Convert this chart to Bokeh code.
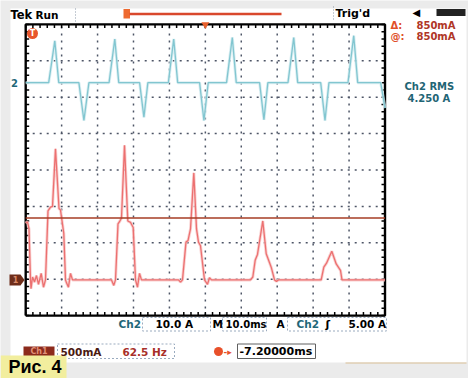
import numpy as np
from bokeh.plotting import figure
from bokeh.models import Range1d, Label
from bokeh.embed import file_html
from bokeh.resources import INLINE

# ---------------- data ----------------
ms_per_div = 10.0          # M 10.0ms
ch2_A_per_div = 10.0       # Ch2 10.0 A
ch1_mA_per_div = 500.0     # Ch1 500mA
ch2_offset_div = 2.40      # Ch2 ground marker level (divisions)
ch1_offset_div = -3.02     # Ch1 ground marker level (divisions)
cursor_mA = 850.0          # cursor level, Ch1
trigger_time_ms = 50.0     # trigger position (screen centre)

grid_time_ms = [0, 10, 20, 30, 40, 50, 60, 70, 80, 90, 100]
grid_div = [-4, -3, -2, -1, 0, 1, 2, 3, 4]

ch2_time_ms = [0.0, 6.4, 8.1, 9.2, 14.8, 16.2, 17.6,
               23.2, 24.8, 25.9, 31.7, 32.9, 34.0,
               39.7, 41.2, 42.3, 48.4, 49.6, 50.8,
               55.9, 57.5, 58.6, 65.1, 66.3, 67.4,
               73.0, 74.6, 75.7, 82.1, 83.3, 84.4,
               89.7, 91.3, 92.4, 98.8, 100.0]
ch2_amps = [0.0, 0.0, 11.5, 0.0, 0.0, -10.4, 0.0,
            0.0, 12.0, 0.0, 0.0, -9.5, 0.0,
            0.0, 12.0, 0.0, 0.0, -10.4, 0.0,
            0.0, 12.4, 0.0, 0.0, -10.2, 0.0,
            0.0, 12.4, 0.0, 0.0, -10.4, 0.0,
            0.0, 12.9, 0.0, 0.0, -7.0]

ch1_time_ms = [0.0, 0.5, 0.92, 1.34, 1.48, 1.9, 2.45, 3.0, 3.56, 4.31, 4.95, 5.51,
               6.21, 6.9, 7.46, 8.29, 9.27, 9.69, 10.6, 11.08, 11.36, 11.9, 12.47, 13.03,
               23.88, 24.52, 24.99, 25.69, 26.11, 26.66, 27.5, 28.42, 29.17, 29.92, 30.56,
               31.12, 31.67, 32.23,
               42.53, 43.08, 43.64, 44.61, 45.17, 45.87, 46.79, 47.54, 48.09, 48.65, 49.76,
               50.6, 51.15, 51.71,
               62.56, 63.21, 63.87, 64.51, 65.99, 66.94, 68.33, 69.25, 69.8, 70.36,
               82.24, 82.97, 83.72, 85.19, 86.42, 87.61, 88.03, 100.0]
ch1_mA = [780, 800, 700, 0, -120, 40, -30, 60, -60, 90, -100, 0,
          950, 1000, 1010, 1800, 980, 960, 640, 0, -40, -100, 90, 0,
          0, -75, 0, 770, 800, 850, 1850, 810, 790, 720, 0,
          -100, 90, 0,
          0, -30, 0, 520, 540, 700, 1470, 700, 520, 470, 0,
          -60, 30, 0,
          0, 40, 270, 350, 810, 360, 175, 0, -20, 0,
          0, 175, 230, 395, 220, 130, 0, 0]

# ---------------- layout helpers (pixel -> plot units) ----------------
X0, SX = 25.2, 3.593     # px of t=0, px per ms
Y0, SY = 169.5, 36.4     # px of 0 div, px per div


def tx(px):
    return (px - X0) / SX


def ty(py):
    return (Y0 - py) / SY


p = figure(width=468, height=378,
           x_range=Range1d(tx(0), tx(468)), y_range=Range1d(ty(378), ty(0)),
           x_axis_type=None, y_axis_type=None, toolbar_location=None,
           output_backend="svg", min_border=0, outline_line_color=None,
           background_fill_color="#ebebeb", border_fill_color="#ebebeb")

# screen paper
p.quad(left=tx(10), right=tx(466), top=ty(8), bottom=ty(362),
       fill_color="white", line_color=None)
p.segment(x0=tx(345), x1=tx(466), y0=ty(362.5), y1=ty(362.5),
          line_color="#d9bf96", line_width=1)

# graticule
t0, t1 = grid_time_ms[0], grid_time_ms[-1]
d0, d1 = grid_div[0], grid_div[-1]
inner_t = grid_time_ms[1:-1]
inner_d = grid_div[1:-1]
p.segment(x0=inner_t, x1=inner_t, y0=[d0] * len(inner_t), y1=[d1] * len(inner_t),
          line_color="#4d5566", line_width=1.5, line_dash="2 5")
p.segment(x0=[t0] * len(inner_d), x1=[t1] * len(inner_d), y0=inner_d, y1=inner_d,
          line_color="#4d5566", line_width=1.5, line_dash="2 5")

minor_t = np.arange(t0, t1 + 0.01, ms_per_div / 5)
minor_d = np.arange(d0, d1 + 0.01, 0.2)
tk_y = 3.5 / SY
tk_x = 3.5 / SX
p.segment(x0=minor_t, x1=minor_t, y0=d1, y1=d1 - tk_y, line_color="black", line_width=1.5)
p.segment(x0=minor_t, x1=minor_t, y0=d0, y1=d0 + tk_y, line_color="black", line_width=1.5)
p.segment(x0=t0, x1=t0 + tk_x, y0=minor_d, y1=minor_d, line_color="black", line_width=1.5)
p.segment(x0=t1, x1=t1 - tk_x, y0=minor_d, y1=minor_d, line_color="black", line_width=1.5)
p.line([t0, t1, t1, t0, t0], [d0, d0, d1, d1, d0], line_color="black", line_width=2.4)

# traces
ch2_y = ch2_offset_div + np.array(ch2_amps) / ch2_A_per_div
ch1_y = ch1_offset_div + np.array(ch1_mA) / ch1_mA_per_div
p.line(ch2_time_ms, ch2_y, line_color="#cfeaef", line_width=3.0, line_alpha=0.8)
p.line(ch2_time_ms, ch2_y, line_color="#82c6d0", line_width=1.3)
p.line(ch1_time_ms, ch1_y, line_color="#f8c6c6", line_width=3.0, line_alpha=0.8)
p.line(ch1_time_ms, ch1_y, line_color="#ec7070", line_width=1.3)

# cursor
cur_y = ch1_offset_div + cursor_mA / ch1_mA_per_div
p.line([t0, t1], [cur_y, cur_y], line_color="#a63c24", line_width=1.6)

# channel markers
p.patch(x=[tx(9), tx(20), tx(24), tx(20), tx(9)],
        y=[ch1_offset_div + 5.5 / SY, ch1_offset_div + 5.5 / SY, ch1_offset_div,
           ch1_offset_div - 5.5 / SY, ch1_offset_div - 5.5 / SY],
        fill_color="#6e2d1a", line_color=None)


def lab(px, py, text, size="10px", color="black", font="DejaVu Sans",
        style="bold", align="left", y=None):
    p.add_layout(Label(x=tx(px), y=ty(py) if y is None else y, text=text,
                       text_font=font, text_font_size=size, text_color=color,
                       text_font_style=style, text_align=align,
                       text_baseline="middle"))


lab(15, 0, "1", size="8px", color="#d88a68", align="center", y=ch1_offset_div)
lab(14, 0, "2", size="10px", color="#1f6878", align="center", y=ch2_offset_div)

# trigger level marker
p.scatter(x=[tx(32)], y=[ty(33)], size=11, fill_color="#e8562c", line_color=None)
lab(32, 33, "T", size="8px", color="white", align="center")

# top bar
lab(10, 14, "Tek", size="11.5px")
lab(35, 14.5, "Run", size="10.5px")
p.segment(x0=tx(75), x1=tx(75), y0=ty(8), y1=ty(22), line_color="#8a98a8",
          line_width=1, line_dash="1 2")
p.quad(left=tx(123), right=tx(129.5), top=ty(8.5), bottom=ty(18),
       fill_color="#ee6a30", line_color=None)
p.segment(x0=tx(129), x1=tx(281), y0=ty(13.5), y1=ty(13.5),
          line_color="#d9482c", line_width=2.5)
p.scatter(x=[trigger_time_ms], y=[ty(24)], marker="inverted_triangle", size=8,
          fill_color="#e8602c", line_color=None)
p.segment(x0=tx(333), x1=tx(333), y0=ty(6), y1=ty(20), line_color="#8a98a8",
          line_width=1, line_dash="1 2")
lab(335, 12.5, "Trig'd", size="11px")
lab(412, 11.5, "◀", size="10px")
p.quad(left=tx(436), right=tx(465), top=ty(8.5), bottom=ty(15.5),
       fill_color="#222222", line_color=None)

# right readouts
lab(390, 25, "Δ:", size="10px", color="#e0502a")
lab(416, 25, "850mA", size="10px", color="#b03626")
lab(390, 35.5, "@:", size="10px", color="#e0502a")
lab(416, 35.5, "850mA", size="10px", color="#b03626")
lab(404, 86, "Ch2 RMS", size="10px", color="#1f6575")
lab(407, 98, "4.250 A", size="10px", color="#1f6575")

# bottom row 1
box_c = "#9aabbf"
for l, r in [(142, 210), (222, 266), (287, 386)]:
    p.quad(left=tx(l), right=tx(r), top=ty(317), bottom=ty(330.5),
           fill_color=None, line_color=box_c, line_width=1, line_dash="2 2")
lab(118, 323.5, "Ch2", size="10.5px", color="#1f6878")
lab(155, 323.5, "10.0 A", size="10.5px")
lab(212, 323.5, "M", size="10.5px")
lab(225, 323.5, "10.0ms", size="10px")
lab(276, 323.5, "A", size="10.5px")
lab(296, 323.5, "Ch2", size="10.5px", color="#1f6878")
lab(325, 323.5, "ʃ", size="11px")
lab(348, 323.5, "5.00 A", size="10.5px")

# bottom row 2
p.quad(left=tx(23), right=tx(54), top=ty(346), bottom=ty(356.5),
       fill_color="#8c2a1c", line_color=None)
lab(38.5, 351, "Ch1", size="8px", color="#e09078", align="center")
p.quad(left=tx(57), right=tx(174), top=ty(343.5), bottom=ty(358),
       fill_color=None, line_color=box_c, line_width=1, line_dash="2 2")
lab(60, 351, "500mA", size="10.5px", color="#4a1a12")
lab(122, 351, "62.5 Hz", size="10.5px", color="#a8302a")
p.scatter(x=[tx(218)], y=[ty(351)], size=9, fill_color="#e8502a", line_color=None)
lab(223, 351, "-▸", size="9px", color="#e8502a")
p.quad(left=tx(237), right=tx(315), top=ty(343.5), bottom=ty(358),
       fill_color=None, line_color="#606060", line_width=1)
lab(239, 351, "-7.20000ms", size="11px")

# figure caption
p.quad(left=tx(0), right=tx(66), top=ty(355), bottom=ty(378),
       fill_color="#f2ee9e", line_color=None)
lab(8, 366.5, "Рис. 4", size="18px", font="Liberation Sans")

open("out.html", "w").write(file_html(p, INLINE))
